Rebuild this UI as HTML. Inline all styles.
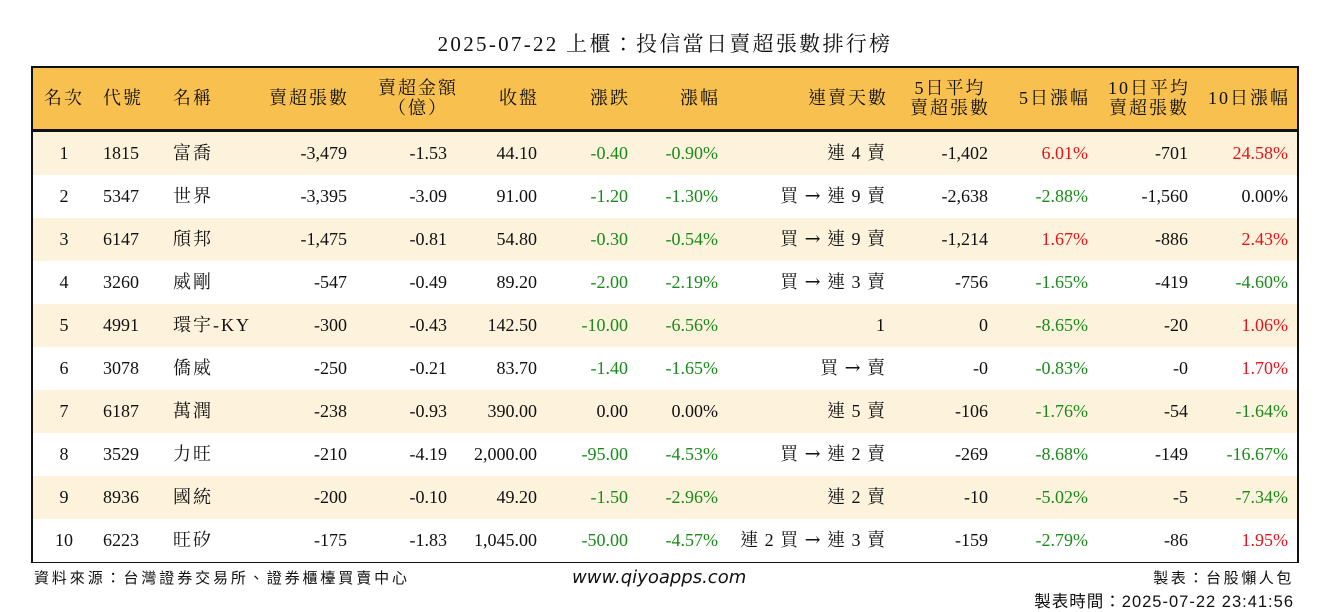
<!DOCTYPE html>
<html><head><meta charset="utf-8">
<style>
body{margin:0;width:1330px;height:612px;background:#fff;position:relative;overflow:hidden;font-family:"Liberation Serif","Noto Serif CJK TC","Noto Serif CJK SC",serif;color:#111}
.abs{position:absolute;white-space:nowrap}
#title{left:0;width:1330px;top:28px;text-align:center;font-size:21px;letter-spacing:2.3px}
#tbl{left:31px;top:66px;width:1264px;height:493px;border:2px solid #111}
#hdr{left:0;top:0;width:1264px;height:61px;background:#f7c04f;border-bottom:3px solid #111}
.row{position:absolute;left:0;width:1264px;height:43px}
.c{position:absolute;font-size:18px;line-height:43px;white-space:nowrap}
.h{position:absolute;font-size:18px;line-height:20px;white-space:nowrap;text-align:center;letter-spacing:2px}
.g{color:#1a8a1a}.r{color:#e3141b}
.ar{font-family:"DejaVu Serif",serif;font-size:19px}
.foot{font-family:"Liberation Sans","Noto Sans CJK TC",sans-serif;font-size:15px}
</style></head><body>
<div class="abs" id="title">2025-07-22 上櫃：投信當日賣超張數排行榜</div>
<div class="abs" id="tbl">
<div class="abs" id="hdr"></div>
<div id="body"></div>
</div>
<div class="abs foot" style="left:34px;top:567px;letter-spacing:2.9px">資料來源：台灣證券交易所、證券櫃檯買賣中心</div>
<div class="abs" style="left:572px;top:567px;font-family:'DejaVu Sans','Liberation Sans',sans-serif;font-style:italic;font-size:18px">www.qiyoapps.com</div>
<div class="abs foot" style="right:36px;top:567px;letter-spacing:2.6px">製表：台股懶人包</div>
<div class="abs foot" style="right:36px;top:588px;letter-spacing:1px;font-size:16.5px">製表時間：2025-07-22 23:41:56</div>
<script>
const headers=["名次","代號","名稱","賣超張數","賣超金額<br>（億）","收盤","漲跌","漲幅","連賣天數","5日平均<br>賣超張數","5日漲幅","10日平均<br>賣超張數","10日漲幅"];
const ranks=["1","2","3","4","5","6","7","8","9","10"];
const codes=["1815","5347","6147","3260","4991","3078","6187","3529","8936","6223"];
const names=["富喬","世界","頎邦","威剛","環宇-KY","僑威","萬潤","力旺","國統","旺矽"];
const sellQty=["-3,479","-3,395","-1,475","-547","-300","-250","-238","-210","-200","-175"];
const sellAmt=["-1.53","-3.09","-0.81","-0.49","-0.43","-0.21","-0.93","-4.19","-0.10","-1.83"];
const closes=["44.10","91.00","54.80","89.20","142.50","83.70","390.00","2,000.00","49.20","1,045.00"];
const changes=["-0.40","-1.20","-0.30","-2.00","-10.00","-1.40","0.00","-95.00","-1.50","-50.00"];
const pcts=["-0.90%","-1.30%","-0.54%","-2.19%","-6.56%","-1.65%","0.00%","-4.53%","-2.96%","-4.57%"];
const streaks=["連 4 賣","買 → 連 9 賣","買 → 連 9 賣","買 → 連 3 賣","1","買 → 賣","連 5 賣","買 → 連 2 賣","連 2 賣","連 2 買 → 連 3 賣"];
const avg5=["-1,402","-2,638","-1,214","-756","0","-0","-106","-269","-10","-159"];
const pct5=["6.01%","-2.88%","1.67%","-1.65%","-8.65%","-0.83%","-1.76%","-8.68%","-5.02%","-2.79%"];
const avg10=["-701","-1,560","-886","-419","-20","-0","-54","-149","-5","-86"];
const pct10=["24.58%","0.00%","2.43%","-4.60%","1.06%","1.70%","-1.64%","-16.67%","-7.34%","1.95%"];
const cols=[[31,'c'],[70,'l'],[140,'l'],[314,'r'],[414,'r'],[504,'r'],[595,'r'],[685,'r'],[853,'r'],[955,'r'],[1055,'r'],[1155,'r'],[1255,'r']];
const tbl=document.getElementById('tbl');
function place(el,i){const [x,a]=cols[i];
 if(a==='c'){el.style.left=(x-40)+'px';el.style.width='80px';el.style.textAlign='center';}
 else if(a==='l'){el.style.left=x+'px';}
 else {el.style.right=(1264-x)+'px';el.style.textAlign='right';}}
const hdr=document.getElementById('hdr');
headers.forEach((t,i)=>{const d=document.createElement('div');d.className='h';d.innerHTML=t;
 place(d,i);d.style.top=t.includes('<br>')?'10px':'20px';
 if(i==4){d.style.right='';d.style.left='330px';d.style.width='110px';d.style.textAlign='center';}
 if(i==9||i==11){d.style.textAlign='center';}
 if(i>=3)d.style.marginRight='-2px';
 
 
 hdr.appendChild(d);});
function cls(v){if(v.startsWith('-')&&v!=='-0')return 'g';if(parseFloat(v)>0)return 'r';return '';}
ranks.forEach((rk,r)=>{
 const row=document.createElement('div');row.className='row';
 
 
 row.style.top=(64+r*43)+'px';row.style.background=r%2===0?'#fdf2db':'#fff';
 const vals=[rk,codes[r],names[r],sellQty[r],sellAmt[r],closes[r],changes[r],pcts[r],streaks[r],avg5[r],pct5[r],avg10[r],pct10[r]];
 vals.forEach((v,i)=>{const d=document.createElement('div');d.className='c';
  if(i==8){d.innerHTML=v.replace('→','<span class="ar">→</span>');d.style.letterSpacing='1px';}
  else d.textContent=v;
  if(i==2)d.style.letterSpacing='2px';
  place(d,i);
  if(i==6||i==7)d.className+=' '+(v.startsWith('-')?'g':'');
  if(i==10||i==12)d.className+=' '+cls(v);
  
  
  row.appendChild(d);});
 tbl.appendChild(row);});
</script>
</body></html>
